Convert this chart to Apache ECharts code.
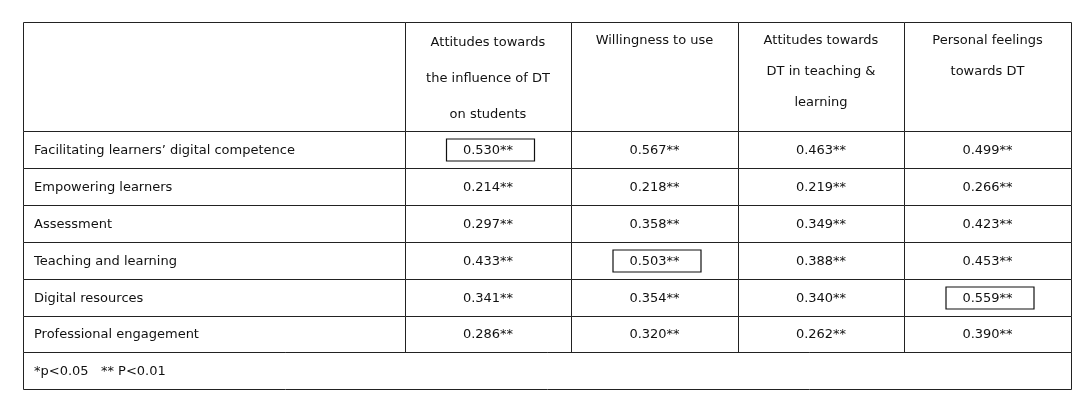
<!DOCTYPE html>
<html><head><meta charset="utf-8">
<script src="https://cdn.jsdelivr.net/npm/echarts@6/dist/echarts.min.js"></script>
<style>html,body{margin:0;background:#fff}#c{width:1087px;height:407px}</style>
</head><body><div id="c"></div>
<script>
var columns = ["", "Attitudes towards\nthe influence of DT\non students", "Willingness to use", "Attitudes towards\nDT in teaching &\nlearning", "Personal feelings\ntowards DT"];
var rowLabels = ["Facilitating learners\u2019 digital competence","Empowering learners","Assessment","Teaching and learning","Digital resources","Professional engagement"];
var values = [
  ["0.530**","0.567**","0.463**","0.499**"],
  ["0.214**","0.218**","0.219**","0.266**"],
  ["0.297**","0.358**","0.349**","0.423**"],
  ["0.433**","0.503**","0.388**","0.453**"],
  ["0.341**","0.354**","0.340**","0.390**".replace("0.390","0.559")],
  ["0.286**","0.320**","0.262**","0.390**"]
];
values[4][3] = "0.559**";
var highlighted = [[0,0],[3,1],[4,3]]; // [row, col]
var footnote = "*p<0.05   ** P<0.01";

var colEdges = [0,382,548,715,881,1048];
var rowEdges = [0,109,146,183,220,257,294,330,367];
var FONT = "13px 'DejaVu Sans', Verdana, sans-serif";

var data = [];
for (var c = 0; c < 5; c++) data.push([c, 0, 'h']);
for (var r = 0; r < rowLabels.length; r++) for (var c2 = 0; c2 < 5; c2++) data.push([c2, r+1, 'b']);
data.push([0, 7, 'f']);

function isHi(r,c){return highlighted.some(function(h){return h[0]===r&&h[1]===c;});}

function renderItem(params, api) {
  var c = api.value(0), r = api.value(1), kind = data[params.dataIndex][2];
  var x0c = colEdges[c], x1c = (kind==='f') ? colEdges[5] : colEdges[c+1];
  var p0 = api.coord([x0c, rowEdges[r]]), p1 = api.coord([x1c, rowEdges[r+1]]);
  var w = p1[0]-p0[0], h = p1[1]-p0[1];
  var ch = [{type:'rect', shape:{x:p0[0]+0.5,y:p0[1]+0.5,width:w,height:h}, style:{fill:'#fff',stroke:'#222',lineWidth:1}}];
  var txt, tx, ty, align='center', va='middle', lh = 31;
  if (kind==='h') {
    txt = columns[c]; tx = p0[0]+w/2; ty = p0[1]+3; va='top'; lh = (c===1)?36:31;
  } else if (kind==='f') {
    txt = footnote; tx = p0[0]+11; ty = p0[1]+h/2+1; align='left';
  } else if (c===0) {
    txt = rowLabels[r-1]; tx = p0[0]+11; ty = p0[1]+h/2+1; align='left';
  } else {
    txt = values[r-1][c-1]; tx = p0[0]+w/2; ty = p0[1]+h/2+1;
    if (isHi(r-1,c-1)) ch.push({type:'rect', shape:{x:tx-41.5,y:ty-11.5,width:88,height:22}, style:{fill:'none',stroke:'#111',lineWidth:1.2}});
  }
  if (txt) ch.push({type:'text', style:{text:txt,x:tx,y:ty,align:align,verticalAlign:va,font:FONT,fill:'#111',lineHeight:lh}});
  return {type:'group', children:ch};
}

var chart = echarts.init(document.getElementById('c'));
chart.setOption({
  animation:false,
  grid:{left:23,top:22,width:1048,height:367},
  xAxis:{type:'value',min:0,max:1048,show:false},
  yAxis:{type:'value',min:0,max:367,inverse:true,show:false},
  series:[{type:'custom',renderItem:renderItem,data:data,encode:{x:0,y:1}}]
});
</script></body></html>
